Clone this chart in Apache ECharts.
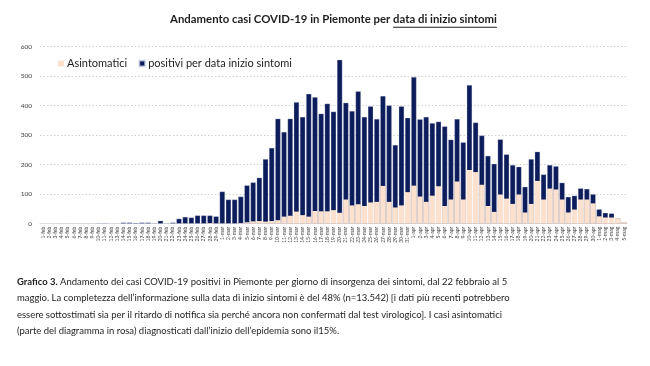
<!DOCTYPE html>
<html><head><meta charset="utf-8">
<script src="https://cdn.jsdelivr.net/npm/echarts@6/dist/echarts.min.js"></script>
<style>html,body{margin:0;padding:0;background:#fff}#c{width:650px;height:366px}</style>
</head><body><div id="c"></div>
<script>
const dates = ['1-feb','2-feb','3-feb','4-feb','5-feb','6-feb','7-feb','8-feb','9-feb','10-feb','11-feb','12-feb','13-feb','14-feb','15-feb','16-feb','17-feb','18-feb','19-feb','20-feb','21-feb','22-feb','23-feb','24-feb','25-feb','26-feb','27-feb','28-feb','29-feb',
'1-mar','2-mar','3-mar','4-mar','5-mar','6-mar','7-mar','8-mar','9-mar','10-mar','11-mar','12-mar','13-mar','14-mar','15-mar','16-mar','17-mar','18-mar','19-mar','20-mar','21-mar','22-mar','23-mar','24-mar','25-mar','26-mar','27-mar','28-mar','29-mar','30-mar','31-mar',
'1-apr','2-apr','3-apr','4-apr','5-apr','6-apr','7-apr','8-apr','9-apr','10-apr','11-apr','12-apr','13-apr','14-apr','15-apr','16-apr','17-apr','18-apr','19-apr','20-apr','21-apr','22-apr','23-apr','24-apr','25-apr','26-apr','27-apr','28-apr','29-apr','30-apr',
'1-mag','2-mag','3-mag','4-mag','5-mag'];

// total positives by symptom-onset date (navy bar top)
const positivi = [1,1,0,0,0,0,1,0,0,2,2,0,1,4,4,3,4,4,2,10,2,4,17,23,21,28,28,28,25,
109,82,82,92,130,140,156,219,257,356,311,356,412,362,440,429,373,407,380,556,410,382,449,362,398,355,433,401,267,398,359,
497,354,362,341,346,330,285,355,276,470,343,299,230,203,286,235,199,193,125,219,244,167,199,195,139,91,95,120,118,100,
49,37,35,18,5];

// asymptomatic cases (pink part)
const asintomatici = [1,1,0,0,0,0,0,0,0,0,0,0,0,0,0,0,0,0,0,0,0,0,0,0,0,0,0,2,0,
0,0,0,2,5,8,9,7,9,12,24,27,41,29,24,43,42,42,46,37,82,62,66,60,72,74,128,74,55,62,107,
129,92,74,95,127,60,82,143,82,182,175,132,60,40,99,85,67,99,38,67,145,82,119,116,82,38,48,82,82,69,
25,21,21,18,5];

const yTicks = [0,100,200,300,400,500,600];

const titleA = 'Andamento casi COVID-19 in Piemonte per ';
const titleB = 'data di inizio sintomi';
const capBold = 'Grafico 3.';
const capLines = [
 ' Andamento dei casi COVID-19 positivi in Piemonte per giorno di insorgenza dei sintomi, dal 22 febbraio al 5',
 'maggio. La completezza dell\u2019informazione sulla data di inizio sintomi è del 48% (n=13.542) [i dati più recenti potrebbero',
 'essere sottostimati sia per il ritardo di notifica sia perché ancora non confermati dal test virologico]. I casi asintomatici',
 '(parte del diagramma in rosa) diagnosticati dall\u2019inizio dell\u2019epidemia sono il15%.'
];

const NAVY = '#0d1d5b', PINK = '#fde1cf', TXT = '#1e1e1e';
const FAM = 'Lato';
const mctx = document.createElement('canvas').getContext('2d');
function tw(t, w, s){ mctx.font = w + ' ' + s + 'px ' + FAM; return mctx.measureText(t).width; }

// fit font sizes to reference widths
const titleSize = 10 * 327 / tw(titleA + titleB, 'bold', 10);
const s1 = 10 * 486 / (tw(capBold, 'bold', 10) + tw(capLines[0], 'normal', 10));
const s2 = 10 * 499 / tw(capLines[1], 'normal', 10);
const capSize = (s1 + s2) / 2;
const wA = tw(titleA, 'bold', titleSize), wB = tw(titleB, 'bold', titleSize);
const tx0 = 333.5 - (wA + wB) / 2;
const titleY = 21;

const graphics = [
  {type:'text', left: tx0, top: titleY - titleSize*0.6, style:{text:titleA, font:'bold '+titleSize+'px '+FAM, fill:TXT}},
  {type:'text', left: tx0 + wA, top: titleY - titleSize*0.6, style:{text:titleB, font:'bold '+titleSize+'px '+FAM, fill:TXT}},
  {type:'line', shape:{x1: tx0 + wA, y1: titleY + titleSize*0.55, x2: tx0 + wA + wB, y2: titleY + titleSize*0.55}, style:{stroke:TXT, lineWidth:1}}
];
const capY = [283, 299.5, 316, 332.5];
capLines.forEach((l, i) => {
  graphics.push({type:'text', left: 17, top: capY[i] - capSize*0.6,
    style:{ text: i === 0 ? '{b|' + capBold + '}' + l : l,
      font: capSize + 'px ' + FAM, fill: TXT,
      rich: { b: { fontWeight:'bold', fontSize: capSize, fontFamily: FAM, fill: TXT } } }});
});

const chart = echarts.init(document.getElementById('c'), null, {renderer:'canvas'});
chart.setOption({
  animation:false,
  textStyle:{fontFamily:FAM},
  grid:{left:40, right:23, top:46.7, bottom:142.3, containLabel:false},
  legend:{data:['Asintomatici','positivi per data inizio sintomi'], left:53, top:53, itemWidth:6, itemHeight:6, itemGap:11,
    icon:'rect', textStyle:{fontSize:11, color:TXT, fontFamily:FAM, padding:[0,0,0,-2]}},
  xAxis:{type:'category', data:dates, axisTick:{show:false},
    axisLine:{show:true, lineStyle:{color:'#d9d9d9'}},
    axisLabel:{interval:0, rotate:90, fontSize:5, color:'#404040', margin:3}},
  yAxis:{type:'value', min:0, max:600, interval:100,
    axisLine:{show:false}, axisTick:{show:false},
    axisLabel:{fontSize:6.5, color:'#404040', margin:8},
    splitLine:{lineStyle:{type:[1.5,2], color:'#cfcfcf', width:1}}},
  series:[
    {name:'positivi per data inizio sintomi', type:'bar', data:positivi, barCategoryGap:'14%', barGap:'-100%',
      itemStyle:{color:NAVY, borderColor:'rgba(220,225,240,0.7)', borderWidth:0.4}},
    {name:'Asintomatici', type:'bar', data:asintomatici, barCategoryGap:'14%', barGap:'-100%',
      itemStyle:{color:PINK}}
  ],
  graphic: graphics
});
</script></body></html>
